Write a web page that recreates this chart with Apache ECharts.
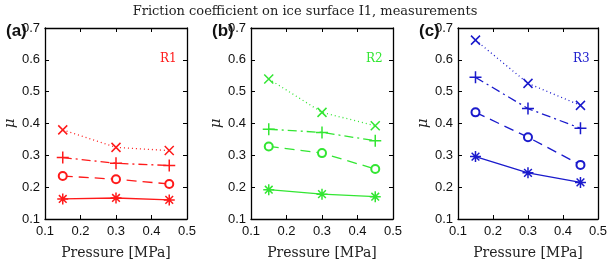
<!DOCTYPE html>
<html>
<head>
<meta charset="utf-8">
<script src="https://cdn.jsdelivr.net/npm/echarts@6/dist/echarts.min.js"></script>
<style>
html, body { margin: 0; padding: 0; background: #fff; }
#chart { width: 610px; height: 265px; }
</style>
</head>
<body>
<div id="chart"></div>
<script>
var pressure = [0.15, 0.3, 0.45];
var xTicks = [0.1, 0.2, 0.3, 0.4, 0.5];
var yTicks = [0.1, 0.2, 0.3, 0.4, 0.5, 0.6, 0.7];

// panel a, R1
var r1Cross = [0.380, 0.325, 0.315];
var r1Plus = [0.293, 0.275, 0.268];
var r1Circle = [0.235, 0.225, 0.210];
var r1Star = [0.163, 0.166, 0.160];
// panel b, R2
var r2Cross = [0.540, 0.435, 0.393];
var r2Plus = [0.382, 0.372, 0.346];
var r2Circle = [0.328, 0.307, 0.257];
var r2Star = [0.192, 0.178, 0.170];
// panel c, R3
var r3Cross = [0.662, 0.526, 0.457];
var r3Plus = [0.545, 0.447, 0.385];
var r3Circle = [0.435, 0.357, 0.270];
var r3Star = [0.296, 0.245, 0.215];

var panelNames = ['(a)', '(b)', '(c)'];
var runNames = ['R1', 'R2', 'R3'];
var colors = ['#ff1a1a', '#33e633', '#1a1acc'];
var panelData = [
    [r1Cross, r1Plus, r1Circle, r1Star],
    [r2Cross, r2Plus, r2Circle, r2Star],
    [r3Cross, r3Plus, r3Circle, r3Star]
];

var lefts = [45, 251, 458];
var plotW = 142;

var symCross = 'path://M0 0L10 10M10 0L0 10';
var symPlus = 'path://M5 0L5 10M0 5L10 5';
var symStar = 'path://M5 0L5 10M0 5L10 5M1.5 1.5L8.5 8.5M8.5 1.5L1.5 8.5';
var styles = [
    {sym: symCross, dash: [1, 3], size: 9},
    {sym: symPlus, dash: [9, 4, 2, 4], size: 12},
    {sym: 'emptyCircle', dash: [10, 6], size: 8},
    {sym: symStar, dash: 'solid', size: 11}
];

var tickFont = {fontFamily: 'Liberation Sans', fontSize: 13, color: '#111'};

var grids = [], xAxes = [], yAxes = [], series = [];
var titles = [{
    text: 'Friction coefficient on ice surface I1, measurements',
    left: 'center', top: 0,
    textStyle: {fontFamily: 'DejaVu Serif', fontWeight: 'normal', fontSize: 13, color: '#222'}
}];

function pair(vals) {
    return pressure.map(function(p, i) { return [p, vals[i]]; });
}

for (var k = 0; k < 3; k++) {
    grids.push({left: lefts[k], width: plotW, top: 28, bottom: 38});
    var axisLine = {lineStyle: {color: '#000', width: 1.3}};
    var tick = {inside: true, length: 4, lineStyle: {color: '#000'}};
    xAxes.push({
        type: 'value', gridIndex: k, min: 0.1, max: 0.5, interval: 0.1,
        axisLine: axisLine, axisTick: tick, splitLine: {show: false},
        axisLabel: Object.assign({margin: 6, formatter: function(v) { return v.toFixed(1); }}, tickFont),
        name: 'Pressure [MPa]', nameLocation: 'middle', nameGap: 27,
        nameTextStyle: {fontFamily: 'DejaVu Serif', fontSize: 14, color: '#222'}
    });
    xAxes.push({
        type: 'value', gridIndex: k, position: 'top', min: 0.1, max: 0.5, interval: 0.1,
        axisLine: axisLine, axisTick: tick, axisLabel: {show: false}, splitLine: {show: false}
    });
    yAxes.push({
        type: 'value', gridIndex: k, min: 0.1, max: 0.7, interval: 0.1,
        axisLine: axisLine, axisTick: tick, splitLine: {show: false},
        axisLabel: Object.assign({margin: 5, formatter: function(v) { return v.toFixed(1); }}, tickFont),
        name: 'μ', nameLocation: 'middle', nameGap: 27, nameRotate: 90,
        nameTextStyle: {fontFamily: 'DejaVu Serif', fontStyle: 'italic', fontSize: 15, color: '#222'}
    });
    yAxes.push({
        type: 'value', gridIndex: k, position: 'right', min: 0.1, max: 0.7, interval: 0.1,
        axisLine: axisLine, axisTick: tick, axisLabel: {show: false}, splitLine: {show: false}
    });
    titles.push({
        text: panelNames[k], left: lefts[k] - 44, top: 18,
        textStyle: {fontFamily: 'Liberation Sans', fontWeight: 'bold', fontSize: 17, color: '#111'}
    });
    titles.push({
        text: runNames[k], left: lefts[k] + 110, top: 48,
        textStyle: {fontFamily: 'DejaVu Serif', fontWeight: 'normal', fontSize: 12, color: colors[k]}
    });
    for (var s = 0; s < 4; s++) {
        var st = styles[s];
        var isCircle = st.sym === 'emptyCircle';
        series.push({
            type: 'line', xAxisIndex: 2 * k, yAxisIndex: 2 * k,
            data: pair(panelData[k][s]),
            symbol: st.sym, symbolSize: st.size, showAllSymbol: true,
            lineStyle: {color: colors[k], width: 1.3, type: st.dash},
            itemStyle: {color: isCircle ? colors[k] : 'none', borderColor: colors[k], borderWidth: 1.5},
            emphasis: {disabled: true},
            animation: false
        });
    }
}

var chart = echarts.init(document.getElementById('chart'));
chart.setOption({
    animation: false,
    title: titles,
    grid: grids,
    xAxis: xAxes,
    yAxis: yAxes,
    series: series
});
</script>
</body>
</html>
